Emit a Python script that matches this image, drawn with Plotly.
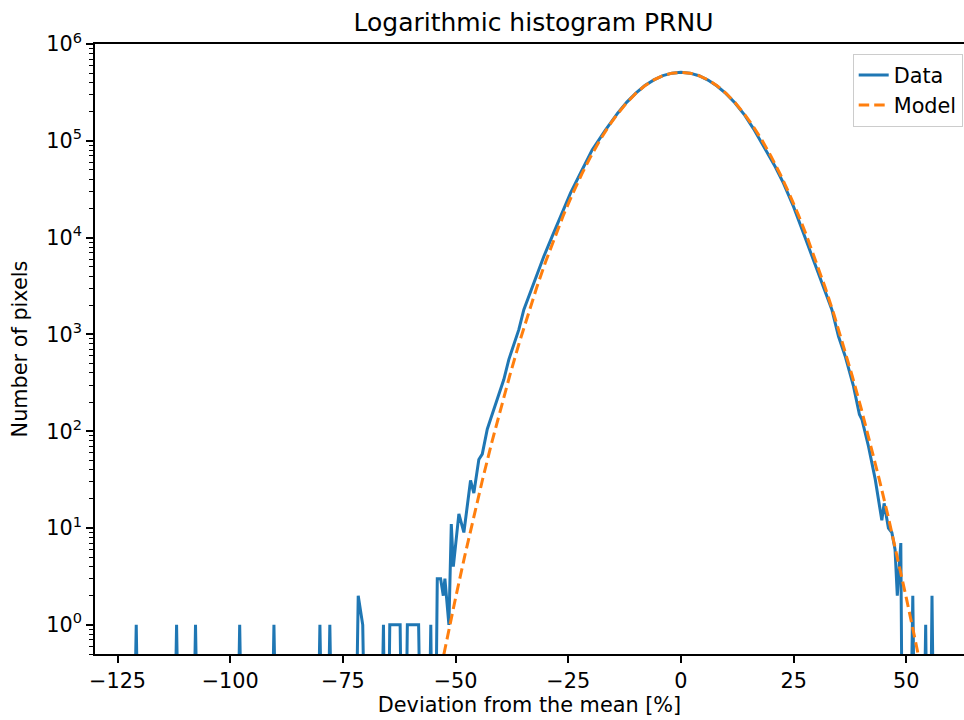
import plotly.graph_objects as go

# ---------------- data ----------------
# Data histogram (bin centre in %, pixel count); 0 = empty bin
left_tail_x = [-122.0, -120.85, -119.8,
               -113.0, -111.9, -110.8,
               -108.8, -107.7, -106.6,
               -99.0, -97.9, -96.8,
               -91.4, -90.3, -89.2,
               -81.2, -80.1, -79.0, -77.9, -76.8,
               -72.7, -71.6, -70.6, -69.5,
               -67.1, -66.0, -65.3, -64.6, -63.45, -62.3, -61.5, -60.7, -59.45, -58.2, -57.2,
               -56.5, -55.5, -54.8]
left_tail_counts = [0, 1, 0,
                    0, 1, 0,
                    0, 1, 0,
                    0, 1, 0,
                    0, 1, 0,
                    0, 1, 0, 1, 0,
                    0, 2, 1, 0,
                    0, 1, 0, 1, 1, 1, 0, 1, 1, 1, 0,
                    0, 1, 0]

core_x = [-54.06, -53.32, -52.73, -52.37, -51.48, -50.95, -50.5, -49.27, -48.16, -46.68,
          -45.95, -44.84, -44.08, -42.97, -42.24, -40.76, -40.03, -39.30, -38.19, -37.08,
          -35.97, -34.86, -32.65, -30.43, -28.57, -26.35, -24.51, -22.3, -19.7, -16.76,
          -14, -12, -10, -8, -6, -4, -2, 0, 2, 4,
          6, 8, 10, 12, 14, 16.11, 18.71, 20.92, 22.76, 24.98,
          27.19, 29.41, 31.63, 33.49, 34.95, 36.44, 38.28, 39.6, 40.14, 41.6,
          43.1, 43.82, 44.57, 45.08, 46.03, 46.79, 47.5, 48.0, 48.78]
core_counts = [3, 3, 2, 3, 1, 11, 4, 14, 9, 31,
               23, 51, 58, 105, 133, 213, 259, 342, 550, 786,
               1120, 1800, 3400, 6380, 10300, 17900, 28800, 46200, 80500, 129000,
               194000, 251000, 311000, 372000, 426000, 471000, 500000, 510000, 500000, 470000,
               424000, 368000, 307000, 246000, 188000, 133000, 83000, 54000, 36300, 20900,
               11100, 5900, 3130, 1800, 957, 596, 292, 149, 133, 70,
               32, 20, 12, 18, 10, 9, 6, 2, 7]

right_tail_x = [49.36, 50.4, 51.44, 52.3, 53.3, 54.3, 55.0, 55.7, 56.5]
right_tail_counts = [0, 0, 2, 0, 0, 1, 0, 2, 0]

# Model curve
model_x = [-54, -52, -50, -48, -46, -44, -42, -40, -38, -36, -34, -32, -30, -28,
           -26, -24, -22, -20, -18, -16, -14, -12, -10, -8, -6, -4, -2, 0,
           2, 4, 6, 8, 10, 12, 14, 16, 18, 20, 22, 24, 26, 28,
           30, 32, 34, 36, 38, 40, 42, 44, 46, 48, 50, 52, 54]
model_counts = [0.24, 0.69, 1.9, 5.07, 13.0, 31.9, 75.5, 171, 373, 783, 1580, 3050, 5680, 10100,
                17400, 28600, 45400, 69000, 101000, 142000, 191000, 248000, 310000, 371000, 426000, 471000, 500000, 510000,
                500000, 471000, 426000, 371000, 310000, 248000, 191000, 142000, 101000, 69000, 45400, 28600, 17400, 10100,
                5680, 3050, 1580, 783, 373, 171, 75.5, 31.9, 13.0, 5.07, 1.9, 0.69, 0.24]

x_tick_vals = [-125, -100, -75, -50, -25, 0, 25, 50]
x_tick_text = ["\u2212125", "\u2212100", "\u221275", "\u221250", "\u221225", "0", "25", "50"]
y_tick_vals = [1, 10, 100, 1000, 10000, 100000, 1000000]
y_tick_text = ["10<sup>%d</sup>" % i for i in range(7)]

# ---------------- figure ----------------
data_x = left_tail_x + core_x + right_tail_x
data_counts = left_tail_counts + core_counts + right_tail_counts
# empty bins drawn far below the axis, as a log axis clips non-positive values
data_plot = [c if c > 0 else 1e-3 for c in data_counts]

FONT = "DejaVu Sans"
fig = go.Figure()
fig.add_trace(go.Scatter(x=data_x, y=data_plot, mode="lines", name="Data",
                         line=dict(color="#1f77b4", width=3)))
fig.add_trace(go.Scatter(x=model_x, y=model_counts, mode="lines", name="Model",
                         line=dict(color="#ff7f0e", width=3, dash="10.5px,5px")))

minor_vals = [m * 10 ** e for e in range(-1, 6) for m in range(2, 10) if m * 10 ** e >= 0.5]

fig.update_layout(
    width=964, height=720,
    margin=dict(l=95, r=0, t=44, b=66, autoexpand=False),
    paper_bgcolor="white", plot_bgcolor="white",
    font=dict(family=FONT, size=20.8, color="black"),
    title=dict(text="Logarithmic histogram PRNU", x=0.5046, xref="paper", xanchor="center",
               y=1 - 22 / 720, yref="container", yanchor="middle",
               font=dict(family=FONT, size=25, color="black")),
    showlegend=True,
    legend=dict(x=0.9985, xanchor="right", y=1 - 10 / 610, yanchor="top",
                bgcolor="rgba(255,255,255,0.8)", bordercolor="#cccccc", borderwidth=1,
                font=dict(family=FONT, size=20.8, color="black"),
                tracegroupgap=0),
    xaxis=dict(range=[-130, 62.8], tickmode="array", tickvals=x_tick_vals, ticktext=x_tick_text,
               automargin=False,
               showline=True, linecolor="black", linewidth=1.6, mirror=True,
               ticks="outside", ticklen=7, tickwidth=1.6, tickcolor="black",
               showgrid=False, zeroline=False,
               title=dict(text="Deviation from the mean [%]", standoff=6,
                          font=dict(family=FONT, size=20.8))),
    yaxis=dict(type="log", range=[-0.30103, 6], tickmode="array", tickvals=y_tick_vals,
               ticktext=y_tick_text, automargin=False,
               showline=True, linecolor="black", linewidth=1.6,
               ticks="outside", ticklen=7, tickwidth=1.6, tickcolor="black",
               minor=dict(tickmode="array", tickvals=minor_vals, ticks="outside", ticklen=4,
                          tickwidth=1.2, tickcolor="black", showgrid=False),
               showgrid=False, zeroline=False,
               title=dict(text="Number of pixels", standoff=13,
                          font=dict(family=FONT, size=20.8))),
)

fig.write_html("out.html", config={"displayModeBar": False},
               post_script="document.body.style.margin='0px';")
